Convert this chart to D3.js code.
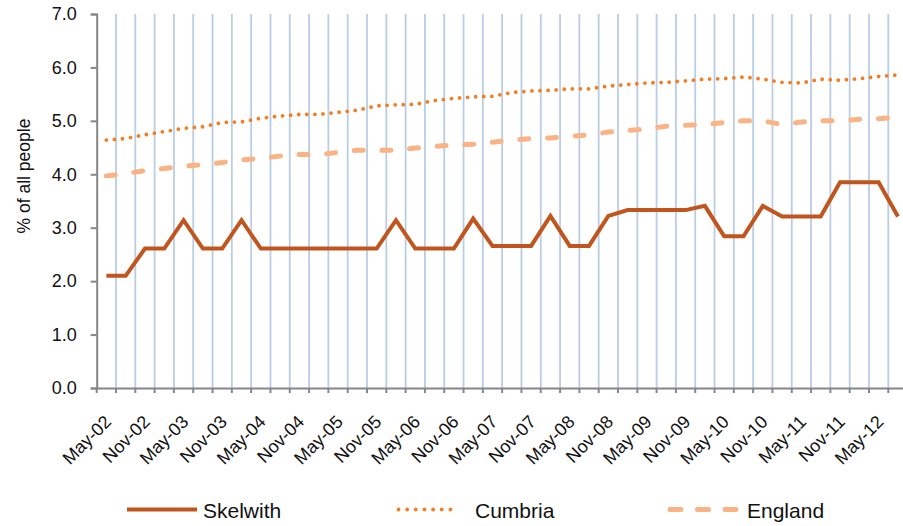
<!DOCTYPE html>
<html>
<head>
<meta charset="utf-8">
<script src="https://cdn.jsdelivr.net/npm/d3@7"></script>
<style>
  html, body { margin: 0; padding: 0; background: #fff; }
  svg { display: block; font-family: "Liberation Sans", Arial, sans-serif; }
</style>
</head>
<body>
<svg id="chart" width="903" height="526"></svg>
<script>
const categories = ["May-02","Aug-02","Nov-02","Feb-03","May-03","Aug-03","Nov-03","Feb-04","May-04","Aug-04","Nov-04","Feb-05","May-05","Aug-05","Nov-05","Feb-06","May-06","Aug-06","Nov-06","Feb-07","May-07","Aug-07","Nov-07","Feb-08","May-08","Aug-08","Nov-08","Feb-09","May-09","Aug-09","Nov-09","Feb-10","May-10","Aug-10","Nov-10","Feb-11","May-11","Aug-11","Nov-11","Feb-12","May-12","Aug-12"];
const tickLabels = ["May-02","Nov-02","May-03","Nov-03","May-04","Nov-04","May-05","Nov-05","May-06","Nov-06","May-07","Nov-07","May-08","Nov-08","May-09","Nov-09","May-10","Nov-10","May-11","Nov-11","May-12"];
const skelwith = [2.10,2.10,2.61,2.61,3.14,2.61,2.61,3.14,2.61,2.61,2.61,2.61,2.61,2.61,2.61,3.14,2.61,2.61,2.61,3.17,2.66,2.66,2.66,3.22,2.66,2.66,3.22,3.33,3.33,3.33,3.33,3.41,2.84,2.84,3.41,3.21,3.21,3.21,3.85,3.85,3.85,3.21];
const cumbria = [4.64,4.67,4.74,4.80,4.86,4.89,4.97,4.98,5.05,5.09,5.12,5.12,5.16,5.20,5.28,5.30,5.31,5.38,5.42,5.45,5.46,5.53,5.56,5.57,5.60,5.60,5.65,5.68,5.71,5.72,5.75,5.78,5.79,5.82,5.78,5.72,5.71,5.78,5.76,5.79,5.83,5.86];
const england = [3.97,4.01,4.07,4.11,4.15,4.18,4.22,4.27,4.30,4.34,4.37,4.37,4.41,4.45,4.45,4.45,4.49,4.52,4.55,4.56,4.60,4.64,4.67,4.68,4.71,4.74,4.79,4.82,4.85,4.90,4.92,4.93,4.97,5.00,5.00,4.93,4.98,5.00,5.00,5.03,5.04,5.07];
const yTicks = [0,1,2,3,4,5,6,7];
const seriesNames = ["Skelwith","Cumbria","England"];

const svg = d3.select("#chart");
const plotLeft = 96.7, plotRight = 907.6, plotTop = 14, plotBottom = 388;

const x = d3.scaleBand().domain(categories).range([plotLeft, plotRight]).paddingInner(0).paddingOuter(0);
const y = d3.scaleLinear().domain([0, 7]).range([plotBottom, plotTop]);
const bw = x.bandwidth();
const cx = c => x(c) + bw / 2;

// vertical gridlines at category boundaries
svg.append("g").selectAll("line")
  .data(categories.slice(1))
  .join("line")
  .attr("x1", d => x(d)).attr("x2", d => x(d))
  .attr("y1", plotTop).attr("y2", plotBottom)
  .attr("stroke", "#B9CDE5").attr("stroke-width", 1.8);

// y axis
const yAxis = svg.append("g").attr("transform", `translate(${plotLeft},0)`)
  .call(d3.axisLeft(y).tickValues(yTicks).tickFormat(d3.format(".1f")).tickSize(6).tickPadding(14));
yAxis.select(".domain").attr("stroke", "#868686").attr("stroke-width", 2);
yAxis.selectAll(".tick line").attr("stroke", "#868686").attr("stroke-width", 2);
yAxis.selectAll(".tick text").attr("font-size", 18).attr("fill", "#111")
  .attr("font-family", "'Liberation Sans', Arial, sans-serif");

// x axis
const xAxis = svg.append("g").attr("transform", `translate(0,${plotBottom})`)
  .call(d3.axisBottom(x).tickValues([]).tickSizeOuter(0));
xAxis.select(".domain").attr("stroke", "#868686").attr("stroke-width", 2);
svg.append("g").selectAll("line")
  .data(categories)
  .join("line")
  .attr("x1", d => x(d)).attr("x2", d => x(d))
  .attr("y1", plotBottom).attr("y2", plotBottom + 5)
  .attr("stroke", "#868686").attr("stroke-width", 2);
svg.append("g").selectAll("text")
  .data(tickLabels)
  .join("text")
  .attr("transform", d => `translate(${cx(d) + 6},${plotBottom + 35}) rotate(-45)`)
  .attr("text-anchor", "end")
  .attr("font-size", 18).attr("fill", "#111")
  .text(d => d);

// y title
svg.append("text")
  .attr("transform", `translate(29.5,${(118 + 234) / 2}) rotate(-90)`)
  .attr("text-anchor", "middle")
  .attr("font-size", 17.5).attr("fill", "#111")
  .text("% of all people");

const line = d3.line().x((d, i) => cx(categories[i])).y(d => y(d));

const styles = {
  Skelwith: { color: "#C0561D", width: 4, dash: null, cap: "butt" },
  Cumbria: { color: "#F47D20", width: 3.8, dash: "0 8.1", cap: "round" },
  England: { color: "#F9B385", width: 5, dash: "9 18.7", cap: "round" }
};
const seriesData = { Skelwith: skelwith, Cumbria: cumbria, England: england };

["England", "Cumbria", "Skelwith"].forEach(name => {
  const s = styles[name];
  svg.append("path")
    .datum(seriesData[name])
    .attr("d", line)
    .attr("fill", "none")
    .attr("stroke", s.color)
    .attr("stroke-width", s.width)
    .attr("stroke-linecap", s.cap)
    .attr("stroke-linejoin", "miter")
    .attr("stroke-dasharray", s.dash);
});

// legend
const legendPos = [
  { name: "Skelwith", x1: 127, x2: 197, tx: 203 },
  { name: "Cumbria", x1: 398.5, x2: 459, tx: 475 },
  { name: "England", x1: 670, x2: 736, tx: 747 }
];
const lg = svg.append("g");
legendPos.forEach(p => {
  const s = styles[p.name];
  lg.append("line")
    .attr("x1", p.x1).attr("x2", p.x2).attr("y1", 509.5).attr("y2", 509.5)
    .attr("stroke", s.color).attr("stroke-width", s.width)
    .attr("stroke-linecap", s.cap)
    .attr("stroke-dasharray", p.name === "Cumbria" ? "0 8.65" : (p.name === "England" ? "11 16.5" : null));
  lg.append("text")
    .attr("x", p.tx).attr("y", 517.5)
    .attr("font-size", 21).attr("fill", "#111")
    .text(p.name);
});
</script>
</body>
</html>
